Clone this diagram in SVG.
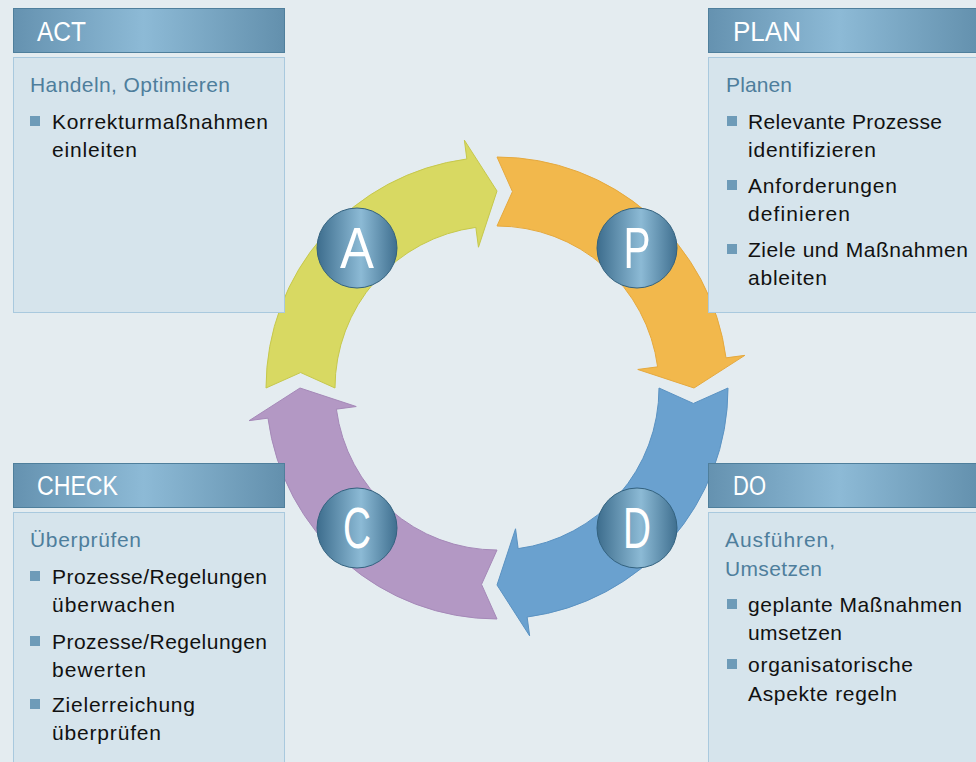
<svg xmlns="http://www.w3.org/2000/svg" width="976" height="762" viewBox="0 0 976 762">
<defs>
<linearGradient id="hdr" x1="0" y1="0" x2="1" y2="0">
<stop offset="0" stop-color="#6592b0"/><stop offset="0.48" stop-color="#8dbad6"/><stop offset="1" stop-color="#6390ad"/>
</linearGradient>
<linearGradient id="ball" x1="0" y1="0" x2="1" y2="0">
<stop offset="0" stop-color="#3d6d8d"/><stop offset="0.55" stop-color="#8cbad5"/><stop offset="1" stop-color="#3f6f8f"/>
</linearGradient>
<path id="arrow" d="M266,388 A231,231 0 0 1 466.85,158.98 L464.37,140.14 L497,191 L478.46,247.22 L475.85,227.39 A162,162 0 0 0 335,388 L300.61,372.54 Z"/>
</defs>
<style>
.hdr{fill:url(#hdr);stroke:#4f7f9c;stroke-width:1}
.body{fill:#d6e4ec;stroke:#a9c9de;stroke-width:1}
.ht{font-family:"Liberation Sans",Arial,sans-serif;font-size:27px;fill:#ffffff}
.sub{font-family:"Liberation Sans",Arial,sans-serif;font-size:21px;fill:#4e7e9c}
.tx{font-family:"Liberation Sans",Arial,sans-serif;font-size:21px;fill:#111111}
.bul{fill:#6e9bb8}
.ball{fill:url(#ball);stroke:#33627f;stroke-width:1}
.let{font-family:"Liberation Sans",Arial,sans-serif;font-size:57px;fill:#ffffff;text-anchor:middle}
</style>
<rect x="0" y="0" width="976" height="762" fill="#e4ecf0"/>
<g id="connectors">
<use href="#arrow" fill="#d8d962" stroke="#c6c84c" stroke-width="1"/>
<use href="#arrow" fill="#f2b84c" stroke="#e5a93e" stroke-width="1" transform="rotate(90 497 388)"/>
<use href="#arrow" fill="#6aa1cf" stroke="#5a92c2" stroke-width="1" transform="rotate(180 497 388)"/>
<use href="#arrow" fill="#b398c4" stroke="#a589b8" stroke-width="1" transform="rotate(270 497 388)"/>
</g>
<g id="act">
<rect class="hdr" x="13.5" y="8.5" width="271" height="44"/>
<text class="ht" x="37" y="41" textLength="49" lengthAdjust="spacingAndGlyphs">ACT</text>
<rect class="body" x="13.5" y="57.5" width="271" height="255"/>
<text class="sub" x="30" y="92" textLength="200">Handeln, Optimieren</text>
<rect class="bul" x="30" y="116" width="10" height="10"/>
<text class="tx" x="52" y="129" textLength="216">Korrekturmaßnahmen</text>
<text class="tx" x="52" y="157" textLength="85">einleiten</text>
</g>
<g id="plan">
<rect class="hdr" x="708.5" y="8.5" width="272" height="44"/>
<text class="ht" x="733" y="41" textLength="68" lengthAdjust="spacingAndGlyphs">PLAN</text>
<rect class="body" x="708.5" y="57.5" width="272" height="255"/>
<text class="sub" x="726" y="92" textLength="66">Planen</text>
<rect class="bul" x="727" y="116" width="10" height="10"/>
<text class="tx" x="748" y="129" textLength="194">Relevante Prozesse</text>
<text class="tx" x="748" y="157" textLength="128">identifizieren</text>
<rect class="bul" x="727" y="180" width="10" height="10"/>
<text class="tx" x="748" y="193" textLength="149">Anforderungen</text>
<text class="tx" x="748" y="221" textLength="102">definieren</text>
<rect class="bul" x="727" y="244" width="10" height="10"/>
<text class="tx" x="748" y="257" textLength="220">Ziele und Maßnahmen</text>
<text class="tx" x="748" y="285" textLength="79">ableiten</text>
</g>
<g id="check">
<rect class="hdr" x="13.5" y="463.5" width="271" height="44"/>
<text class="ht" x="37" y="495" textLength="81" lengthAdjust="spacingAndGlyphs">CHECK</text>
<rect class="body" x="13.5" y="512.5" width="271" height="260"/>
<text class="sub" x="30" y="547" textLength="111">Überprüfen</text>
<rect class="bul" x="30" y="571" width="10" height="10"/>
<text class="tx" x="52" y="584" textLength="215">Prozesse/Regelungen</text>
<text class="tx" x="52" y="612" textLength="123">überwachen</text>
<rect class="bul" x="30" y="636" width="10" height="10"/>
<text class="tx" x="52" y="649" textLength="215">Prozesse/Regelungen</text>
<text class="tx" x="52" y="677" textLength="94">bewerten</text>
<rect class="bul" x="30" y="699" width="10" height="10"/>
<text class="tx" x="52" y="712" textLength="143">Zielerreichung</text>
<text class="tx" x="52" y="740" textLength="109">überprüfen</text>
</g>
<g id="do">
<rect class="hdr" x="708.5" y="463.5" width="272" height="44"/>
<text class="ht" x="733" y="495" textLength="33" lengthAdjust="spacingAndGlyphs">DO</text>
<rect class="body" x="708.5" y="512.5" width="272" height="260"/>
<text class="sub" x="725" y="547" textLength="110">Ausführen,</text>
<text class="sub" x="725" y="576" textLength="97">Umsetzen</text>
<rect class="bul" x="727" y="599" width="10" height="10"/>
<text class="tx" x="748" y="612" textLength="214">geplante Maßnahmen</text>
<text class="tx" x="748" y="640" textLength="94">umsetzen</text>
<rect class="bul" x="727" y="659" width="10" height="10"/>
<text class="tx" x="748" y="672" textLength="165">organisatorische</text>
<text class="tx" x="748" y="701" textLength="149">Aspekte regeln</text>
</g>
<g id="circle-a">
<circle class="ball" cx="357" cy="248" r="40"/>
<text class="let" x="357" y="268" textLength="34" lengthAdjust="spacingAndGlyphs">A</text>
</g>
<g id="circle-p">
<circle class="ball" cx="637" cy="248" r="40"/>
<text class="let" x="637" y="268" textLength="27" lengthAdjust="spacingAndGlyphs">P</text>
</g>
<g id="circle-c">
<circle class="ball" cx="357" cy="528" r="40"/>
<text class="let" x="357" y="548" textLength="28" lengthAdjust="spacingAndGlyphs">C</text>
</g>
<g id="circle-d">
<circle class="ball" cx="637" cy="528" r="40"/>
<text class="let" x="637" y="548" textLength="28" lengthAdjust="spacingAndGlyphs">D</text>
</g>
</svg>
